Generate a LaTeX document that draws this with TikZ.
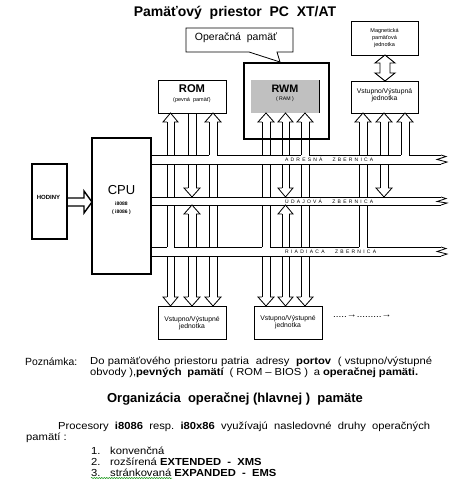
\documentclass[tikz,border=0pt]{standalone}
\usepackage{fontspec}
\setmainfont{Liberation Sans}
\newfontfamily\bodyfont[FakeStretch=1.1]{Liberation Sans}
\usetikzlibrary{decorations.pathmorphing}
\frenchspacing
\newcommand\fsz[1]{\fontsize{#1}{#1}\selectfont}
\newcommand\vseg[4]{\draw[pl] (#1,#3) -- (#1,#4) (#2,#3) -- (#2,#4);}
\newcommand\uph[3]{\draw[pl] (#1,#3+9) -- (#1-4,#3+9) -- ({(#1+#2)/2},#3) -- (#2+4,#3+9) -- (#2,#3+9);}
\newcommand\dnh[3]{\draw[pl] (#1,#3-9) -- (#1-4,#3-9) -- ({(#1+#2)/2},#3) -- (#2+4,#3-9) -- (#2,#3-9);}
\newcommand\busend[2]{\draw[pl] (441,#1) -- (446,#1+1.5) -- (437,#1+4.5) -- (447,#2-2) -- (441,#2);}
\begin{document}
\begin{tikzpicture}[x=1pt,y=-1pt,
  pl/.style={line width=0.8pt},
  box/.style={draw,line width=0.8pt},
  heavybox/.style={draw,line width=2pt},
  txt/.style={inner sep=0pt,align=center},
  body/.style={inner sep=0pt,anchor=west,font=\bodyfont\fsz{10.2}},
  buslabel/.style={inner sep=0pt,anchor=west,font=\fsz{5}}]
\useasboundingbox (0,0) rectangle (464,488);
\definecolor{ramgray}{RGB}{192,192,192}

% title
\node[txt,font=\fsz{14}\bfseries] (title) at (235,12.5) {Pamäťový\ \ priestor\ \ PC\ \ XT/AT};

% callout
\draw[pl] (186,28) -- (293,28) -- (293,52) -- (277,52) -- (280,62) -- (249,52) -- (186,52) -- cycle;
\node[txt,font=\fsz{10.5}] (callout) at (236,38) {Operačná\ \ pamäť};

% magnetic unit
\node[box,minimum width=67pt,minimum height=34pt,inner sep=0pt] (mag) at (384.5,38) {};
\node[txt,font=\fsz{5.5}] at (mag.center) {Magnetická\\[1.6pt]pamäťová\\[1.6pt]jednotka};
\draw[line width=0.9pt] (385,55) -- (395,63) -- (390,63) -- (390,73) -- (395,73) -- (385,81)
  -- (375,73) -- (380,73) -- (380,63) -- (375,63) -- cycle;

% RWM
\node[heavybox,minimum width=85pt,minimum height=76pt,inner sep=0pt] (rwmout) at (286.5,101) {};
\fill[ramgray] (251,80) rectangle (319,113);
\draw[pl] (319,80) -- (319,113);
\node[txt,font=\fsz{10.8}\bfseries] (rwm) at (285,89) {RWM};
\node[txt,font=\fsz{5.2}] (ram) at (285,99.5) {( RAM )};

% ROM
\node[box,minimum width=68pt,minimum height=33pt,inner sep=0pt] (rom) at (192,96.5) {};
\node[txt,font=\fsz{11.2}\bfseries] at (192,89) {ROM};
\node[txt,font=\fsz{5.5}] at (192,100) {(pevná\ \ pamäť)};

% IO top right
\node[box,minimum width=67pt,minimum height=32pt,inner sep=0pt] (io1) at (384.5,97) {};
\node[txt,font=\fsz{6.8}] at (384.5,95) {Vstupno/Výstupná\\[0.5pt]jednotka};

% CPU
\node[heavybox,minimum width=59pt,minimum height=136pt,inner sep=0pt] (cpu) at (121.5,206) {};
\node[txt,font=\fsz{13}] at (121.5,190.5) {CPU};
\node[txt,font=\fsz{5}\bfseries] at (121.5,203.5) {i8088};
\node[txt,font=\fsz{5}\bfseries] at (121.5,212) {( i8086 )};

% HODINY
\node[draw,line width=1.2pt,minimum width=35pt,minimum height=75pt,inner sep=0pt] (hod) at (49.5,201.5) {};
\node[txt,font=\fsz{6}\bfseries] at (48.5,197) {HODINY};
\draw[line width=1.4pt,line join=miter] (67,198) -- (84,198) -- (84,191) -- (92,202) -- (84,213) -- (84,206) -- (67,206);

% bottom IO units
\node[box,minimum width=68pt,minimum height=33pt,inner sep=0pt] (io2) at (192,322.5) {};
\node[txt,font=\fsz{6.8}] at (192,323) {Vstupno/Výstupné\\[0.5pt]jednotka};
\node[box,minimum width=68pt,minimum height=33pt,inner sep=0pt] (io3) at (288,322.5) {};
\node[txt,font=\fsz{6.8}] at (288,322) {Vstupno/Výstupné\\[0.5pt]jednotka};
\node[txt,font=\bodyfont\fsz{9},anchor=west] (more) at (333,316) {.....→.........→};

% buses
\draw[pl] (151,155) -- (209,155) (217,155) -- (301,155) (309,155) -- (401,155) (409,155) -- (441,155);
\draw[pl] (151,164) -- (441,164);
\draw[pl] (151,197) -- (441,197) (151,205) -- (441,205);
\draw[pl] (151,247) -- (167,247) (174,247) -- (262,247) (270,247) -- (359,247) (367,247) -- (441,247);
\draw[pl] (151,256) -- (441,256);
\busend{155}{164}
\busend{197}{205}
\busend{247}{256}
\node[buslabel] at (285,159.5) {\makebox[88pt][s]{A D R E S N Á \hspace{6pt} Z B E R N I C A}};
\node[buslabel] at (285,201) {\makebox[88pt][s]{Ú D A J O V Á \hspace{6pt} Z B E R N I C A}};
\node[buslabel] at (285,251.5) {\makebox[91pt][s]{R I A D I A C A \hspace{6pt} Z B E R N I C A}};

% ROM pipes
\uph{167}{174}{113}\vseg{167}{174}{122}{155}
\vseg{188}{196}{113}{155}
\uph{209}{217}{113}\vseg{209}{217}{122}{155}
% RWM pipes
\uph{262}{270}{113}\vseg{262}{270}{122}{155}
\uph{282}{289}{113}\vseg{282}{289}{122}{155}
\uph{301}{309}{113}\vseg{301}{309}{122}{155}
% IO pipes
\uph{359}{367}{113}\vseg{359}{367}{122}{155}
\uph{380}{388}{113}\vseg{380}{388}{122}{155}
\uph{401}{409}{113}\vseg{401}{409}{122}{155}

% ROM column lower
\vseg{167}{174}{164}{197}\vseg{188}{196}{164}{188}\dnh{188}{196}{197}\vseg{209}{217}{164}{197}
\vseg{167}{174}{205}{247}\uph{188}{196}{205}\vseg{188}{196}{214}{247}\vseg{209}{217}{205}{247}
\vseg{167}{174}{256}{297}\dnh{167}{174}{306}
\vseg{188}{196}{256}{297}\dnh{188}{196}{306}
\vseg{209}{217}{256}{297}\dnh{209}{217}{306}
% RWM column lower
\vseg{262}{270}{164}{197}\vseg{282}{289}{164}{188}\dnh{282}{289}{197}\vseg{301}{309}{164}{197}
\vseg{262}{270}{205}{247}\uph{282}{289}{205}\vseg{282}{289}{214}{247}\vseg{301}{309}{205}{247}
\vseg{262}{270}{256}{297}\dnh{262}{270}{306}
\vseg{282}{289}{256}{297}\dnh{282}{289}{306}
\vseg{301}{309}{256}{297}\dnh{301}{309}{306}
% IO column lower
\vseg{359}{367}{164}{197}\vseg{380}{388}{164}{188}\dnh{380}{388}{197}
\vseg{359}{367}{205}{247}

% note
\node[txt,font=\fsz{10.4},anchor=west] at (25,362) {Poznámka:};
\node[body] at (90,362) {\makebox[342pt][s]{Do pamäťového priestoru patria\ \ adresy\ \ \textbf{portov}\ \ ( vstupno/výstupné}};
\node[body] at (90,372.5) {\makebox[328pt][s]{obvody ),\textbf{pevných\ \ pamätí}\ \ ( ROM – BIOS )\ \ a \textbf{operačnej pamäti.}}};

% organization
\node[txt,font=\fsz{13}\bfseries] at (235,399) {Organizácia\ \ operačnej (hlavnej )\ \ pamäte};
\node[body] at (58,427) {\makebox[372pt][s]{Procesory \textbf{i8086} resp. \textbf{i80x86} využívajú nasledovné druhy operačných}};
\node[body] at (26,438) {pamätí :};
\node[body] at (91,451) {1.};
\node[body] at (110,451) {konvenčná};
\node[body] at (91,462) {2.};
\node[body] at (110,462) {rozšírená \textbf{EXTENDED\ \ -\ \ XMS}};
\node[body] at (91,472.5) {3.};
\node[body] at (110,472.5) {stránkovaná \textbf{EXPANDED\ \ -\ \ EMS}};
\draw[green!55!black,line width=0.5pt,decorate,decoration={snake,amplitude=0.6pt,segment length=2.5pt}] (91,478) -- (172,478);
\end{tikzpicture}
\end{document}
